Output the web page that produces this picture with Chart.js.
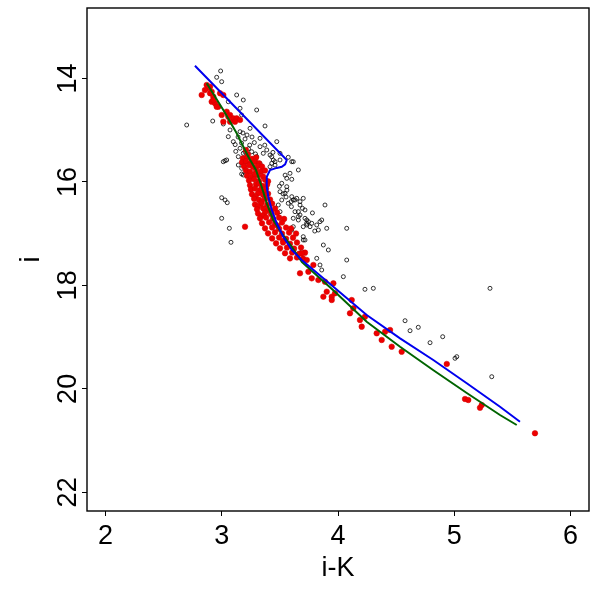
<!DOCTYPE html>
<html>
<head>
<meta charset="utf-8">
<script src="https://cdn.jsdelivr.net/npm/chart.js@4"></script>
<style>
  html, body { margin: 0; padding: 0; background: #fff; }
  #wrap { width: 600px; height: 598px; position: relative; }
</style>
</head>
<body>
<div id="wrap"><canvas id="myChart"></canvas></div>
<script>
// tick labels
const xTicks = [2, 3, 4, 5, 6]
const yTicks = [14, 16, 18, 20, 22]

// blue model track
const blueTrack = [
  [2.769, 13.755], [3.559, 15.577], [3.545, 15.660], [3.516, 15.707], [3.473, 15.730],
  [3.415, 15.770], [3.387, 15.900], [3.387, 16.093], [3.400, 16.286], [3.430, 16.543],
  [3.473, 16.800], [3.529, 17.060], [3.602, 17.316], [3.688, 17.510], [3.960, 18.025],
  [4.247, 18.572], [4.534, 19.023], [4.820, 19.442], [5.108, 19.892], [5.394, 20.345],
  [5.566, 20.634]
]

// green model track
const greenTrack = [
  [2.870, 14.095], [3.013, 14.611], [3.128, 15.061], [3.228, 15.513], [3.294, 15.770],
  [3.343, 16.093], [3.387, 16.414], [3.443, 16.737], [3.516, 16.994], [3.602, 17.253],
  [3.690, 17.550], [3.957, 18.089], [4.247, 18.702], [4.534, 19.185], [4.818, 19.635],
  [5.108, 20.080], [5.394, 20.505], [5.538, 20.698]
]

// members (red filled)
const redStars = [
  [2.870, 14.128], [2.827, 14.321], [2.899, 14.288], [2.927, 14.354], [2.985, 14.288],
  [3.013, 14.321], [2.913, 14.451], [2.942, 14.482], [2.970, 14.547], [3.042, 14.644],
  [2.999, 14.708], [3.071, 14.708], [3.099, 14.772], [3.128, 14.772], [3.114, 14.837],
  [3.157, 14.804], [3.056, 14.740], [2.899, 14.161], [2.913, 14.257], [2.927, 14.418],
  [2.956, 14.547], [3.013, 14.837], [2.880, 14.186], [2.855, 14.225], [3.071, 14.837],
  [3.208, 15.384], [3.225, 15.470],
  [3.182, 15.545], [3.217, 15.520], [3.260, 15.556], [3.295, 15.530],
  [3.174, 15.620], [3.208, 15.600], [3.251, 15.631], [3.286, 15.610], [3.320, 15.640],
  [3.191, 15.699], [3.234, 15.680], [3.269, 15.712], [3.312, 15.688], [3.346, 15.705],
  [3.208, 15.778], [3.243, 15.805], [3.295, 15.772], [3.338, 15.800], [3.372, 15.780],
  [3.217, 15.880], [3.260, 15.902], [3.312, 15.870], [3.355, 15.895], [3.285, 15.850],
  [3.234, 15.972], [3.278, 15.950], [3.320, 15.985], [3.372, 15.958], [3.398, 15.990],
  [3.243, 16.066], [3.295, 16.045], [3.346, 16.078], [3.390, 16.052], [3.320, 16.030],
  [3.251, 16.145], [3.286, 16.128], [3.329, 16.160], [3.381, 16.130], [3.360, 16.190],
  [3.260, 16.240], [3.312, 16.222], [3.355, 16.250], [3.398, 16.228], [3.290, 16.280],
  [3.278, 16.325], [3.320, 16.348], [3.372, 16.318], [3.415, 16.340], [3.345, 16.380],
  [3.286, 16.436], [3.338, 16.418], [3.390, 16.445], [3.433, 16.420], [3.310, 16.470],
  [3.303, 16.530], [3.355, 16.512], [3.398, 16.540], [3.458, 16.515], [3.425, 16.570],
  [3.312, 16.610], [3.372, 16.592], [3.424, 16.620], [3.476, 16.598], [3.350, 16.650],
  [3.329, 16.705], [3.381, 16.688], [3.441, 16.712], [3.493, 16.690], [3.536, 16.715],
  [3.346, 16.800], [3.407, 16.782], [3.458, 16.808], [3.518, 16.786], [3.480, 16.850],
  [3.372, 16.898], [3.433, 16.880], [3.493, 16.905], [3.553, 16.882], [3.596, 16.900],
  [3.398, 16.995], [3.458, 16.975], [3.518, 17.000], [3.579, 16.980], [3.639, 16.998],
  [3.433, 17.092], [3.493, 17.075], [3.553, 17.098], [3.613, 17.078], [3.530, 17.140],
  [3.467, 17.188], [3.527, 17.170], [3.587, 17.195], [3.647, 17.172],
  [3.501, 17.285], [3.561, 17.268], [3.622, 17.290], [3.682, 17.270],
  [3.544, 17.380], [3.605, 17.365], [3.665, 17.388], [3.716, 17.368],
  [3.587, 17.478], [3.647, 17.460], [3.699, 17.480],
  [3.200, 16.866],
  [3.688, 17.381], [3.731, 17.510], [3.788, 17.606], [3.745, 17.736], [3.673, 17.767],
  [3.774, 17.864], [3.831, 17.896], [3.888, 17.929], [3.960, 17.960], [3.903, 18.122],
  [3.874, 18.219], [3.946, 18.219], [3.946, 18.283], [3.974, 18.153], [4.118, 18.283],
  [4.132, 18.443], [4.103, 18.540], [4.189, 18.669], [4.204, 18.798], [4.232, 18.605],
  [4.333, 18.926], [4.376, 19.055], [4.405, 18.895], [4.448, 18.862], [4.462, 19.185],
  [4.548, 19.282], [4.936, 19.519], [5.093, 20.196], [5.121, 20.215], [5.222, 20.364],
  [5.237, 20.312], [5.695, 20.858]
]

// field stars (open circles)
const openStars = [
  [2.990, 13.857], [2.956, 13.979], [2.999, 14.064], [3.128, 14.321], [3.185, 14.418],
  [3.056, 14.451], [3.157, 14.578], [3.171, 14.708], [3.300, 14.611], [2.698, 14.901],
  [2.922, 14.824], [3.013, 14.881], [3.372, 14.920], [3.243, 14.965], [3.071, 14.997],
  [3.157, 15.030], [3.182, 15.055], [3.217, 15.094], [3.260, 15.133], [3.200, 15.171],
  [3.140, 15.133], [3.329, 15.158], [3.473, 15.223], [3.056, 15.126], [3.099, 15.223],
  [3.329, 15.320], [3.387, 15.384], [3.357, 15.448], [3.415, 15.481], [3.501, 15.448],
  [3.157, 15.351], [3.185, 15.448], [3.257, 15.417], [3.142, 15.513], [3.214, 15.544],
  [3.300, 15.513], [3.443, 15.577], [3.501, 15.577], [3.042, 15.577], [3.142, 15.674],
  [3.329, 15.641], [3.415, 15.707], [3.615, 15.610], [3.458, 15.610], [3.572, 15.525],
  [3.659, 15.770], [3.587, 15.834], [3.013, 15.610], [3.171, 15.738], [3.214, 15.674],
  [3.185, 15.867], [3.430, 15.641], [3.559, 15.931], [3.602, 15.950], [3.516, 16.028],
  [3.559, 16.093], [3.501, 16.190], [3.544, 16.221], [3.602, 16.286], [3.615, 16.350],
  [3.645, 16.318], [3.701, 16.318], [3.516, 16.350], [3.572, 16.414], [3.673, 16.447],
  [3.716, 16.543], [3.659, 16.576], [3.615, 16.704], [3.659, 16.737], [3.731, 16.737],
  [3.774, 16.801], [3.817, 16.833], [3.831, 16.930], [3.731, 16.833], [3.888, 16.447],
  [3.860, 16.737], [4.075, 16.897], [3.615, 16.866], [3.602, 16.930], [3.701, 17.059],
  [3.501, 16.576], [3.486, 16.447], [3.673, 16.640], [3.745, 16.769], [3.845, 16.769],
  [3.701, 16.866], [3.759, 16.866], [3.903, 16.897], [3.701, 17.123], [3.874, 17.220],
  [3.917, 17.316], [3.817, 17.477], [4.075, 17.510], [4.046, 17.832], [3.860, 17.703],
  [3.845, 17.606], [3.688, 17.349], [4.232, 18.076], [4.304, 18.057], [5.308, 18.057],
  [4.577, 18.683], [4.620, 18.876], [4.691, 18.810], [4.792, 19.108], [4.901, 18.992],
  [5.007, 19.409], [5.022, 19.378], [5.323, 19.765],
  [2.999, 16.306], [3.028, 16.350], [3.047, 16.402], [2.999, 16.704], [3.065, 16.897],
  [3.079, 17.168], [3.028, 15.591], [3.171, 15.848],
  [3.115, 15.280], [3.170, 15.250], [3.240, 15.290], [3.280, 15.240], [3.120, 15.410],
  [3.230, 15.360], [3.290, 15.460], [3.370, 15.290], [3.440, 15.430], [3.200, 15.420],
  [3.496, 16.086], [3.527, 16.231], [3.553, 16.292], [3.596, 16.382], [3.630, 16.350],
  [3.673, 16.382], [3.599, 16.479], [3.694, 16.511], [3.630, 16.576], [3.659, 16.672],
  [3.716, 16.704], [3.730, 16.801], [3.716, 17.123], [3.602, 15.610], [3.458, 15.675],
  [3.430, 15.515], [3.545, 15.870], [3.560, 16.160], [3.780, 16.600], [3.800, 16.950]
]

const toPts = (arr) => arr.map((p) => { return { x: p[0], y: p[1] } })

const boxPlugin = {
  id: 'box',
  afterDatasetsDraw(chart) {
    const a = chart.chartArea
    const c = chart.ctx
    c.save()
    c.strokeStyle = '#000'
    c.lineWidth = 1.4
    c.strokeRect(a.left, a.top, a.right - a.left, a.bottom - a.top)
    c.restore()
  }
}

const font = { family: "'Liberation Sans', Arial, sans-serif", size: 27 }

new Chart(document.getElementById('myChart').getContext('2d'), {
  type: 'scatter',
  data: {
    datasets: [
      {
        label: 'blue', data: toPts(blueTrack), showLine: true, fill: false,
        borderColor: '#0000ee', borderWidth: 2, pointRadius: 0, tension: 0
      },
      {
        label: 'green', data: toPts(greenTrack), showLine: true, fill: false,
        borderColor: '#006400', borderWidth: 2, pointRadius: 0, tension: 0
      },
      {
        label: 'members', data: toPts(redStars),
        backgroundColor: '#ee0000', borderColor: '#d00000', borderWidth: 0.5, pointRadius: 2.8
      },
      {
        label: 'field', data: toPts(openStars),
        backgroundColor: 'rgba(0,0,0,0)', borderColor: '#000', borderWidth: 0.8, pointRadius: 2
      }
    ]
  },
  options: {
    responsive: true,
    maintainAspectRatio: false,
    animation: false,
    layout: { padding: { left: 0, top: 8, right: 11, bottom: 0 } },
    plugins: { legend: { display: false }, tooltip: { enabled: false } },
    scales: {
      x: {
        type: 'linear', min: 1.84, max: 6.16,
        afterBuildTicks: (s) => { s.ticks = xTicks.map((v) => ({ value: v })) },
        afterFit: (s) => { s.height = 87; s.paddingLeft = 0; s.paddingRight = 0 },
        grid: { drawOnChartArea: false, drawTicks: true, tickLength: 5, color: '#000' },
        border: { display: false },
        ticks: { color: '#000', font: font, padding: 4, maxRotation: 0, autoSkip: false },
        title: { display: true, text: 'i-K', color: '#000', font: font, padding: { top: 0, bottom: 13 } }
      },
      y: {
        type: 'linear', min: 12.64, max: 22.36, reverse: true,
        afterBuildTicks: (s) => { s.ticks = yTicks.map((v) => ({ value: v })) },
        afterFit: (s) => { s.width = 87; s.paddingTop = 0; s.paddingBottom = 0 },
        grid: { drawOnChartArea: false, drawTicks: true, tickLength: 5, color: '#000' },
        border: { display: false },
        ticks: { color: '#000', font: font, padding: -2, minRotation: 90, maxRotation: 90, crossAlign: 'center', autoSkip: false },
        title: { display: true, text: 'i', color: '#000', font: font, padding: { top: 15, bottom: 0 } }
      }
    }
  },
  plugins: [boxPlugin]
})
</script>
</body>
</html>
